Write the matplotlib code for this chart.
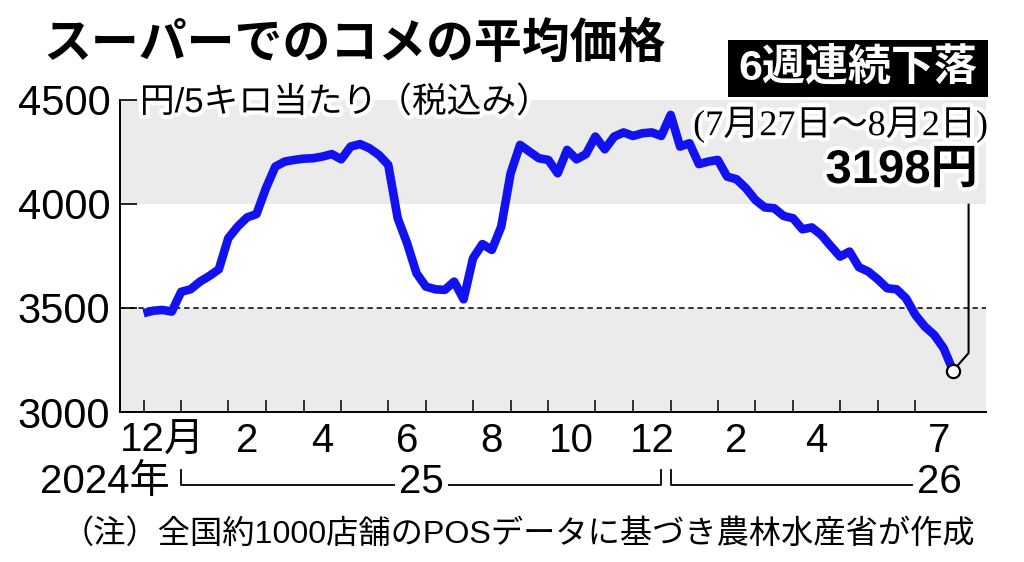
import matplotlib
matplotlib.use('Agg')
import matplotlib.pyplot as plt
import matplotlib.patheffects as pe
import matplotlib.transforms as mtransforms
from matplotlib import font_manager as fm
from matplotlib.patches import Rectangle
import numpy as np
import pandas as pd

# ---------------- data ----------------
title = 'スーパーでのコメの平均価格'
badge = '6週連続下落'
period_label = '(7月27日～8月2日)'
last_label = '3198円'
unit_label = '円/5キロ当たり（税込み）'
note = '（注）全国約1000店舗のPOSデータに基づき農林水産省が作成'

first_week = '2024-12-02'   # weekly data, Monday start
prices = [3474, 3486, 3490, 3482, 3577, 3589, 3626, 3653, 3685, 3834,
          3890, 3934, 3950, 4074, 4178, 4202, 4210, 4216, 4218, 4226,
          4238, 4213, 4274, 4286, 4266, 4234, 4186, 3930, 3810, 3666,
          3602, 3589, 3586, 3626, 3541, 3738, 3806, 3778, 3890, 4146,
          4282, 4250, 4218, 4210, 4146, 4258, 4213, 4238, 4322, 4261,
          4322, 4342, 4325, 4338, 4342, 4325, 4426, 4274, 4290, 4190,
          4202, 4210, 4130, 4117, 4074, 4018, 3982, 3978, 3941, 3930,
          3877, 3886, 3850, 3797, 3746, 3770, 3695, 3674, 3637, 3594,
          3589, 3546, 3466, 3410, 3370, 3306, 3198]

yticks = [3000, 3500, 4000, 4500]
ytick_labels = ['3000', '3500', '4000', '4500']
bands = [(3000, 3500), (4000, 4500)]
ref_level = 3500

label_months = ['2024-12', '2025-02', '2025-04', '2025-06', '2025-08',
                '2025-10', '2025-12', '2026-02', '2026-04', '2026-07']
label_texts = ['12月', '2', '4', '6', '8', '10', '12', '2', '4', '7']
year_texts = ['2024年', '25', '26']

# ---------------- fonts ----------------
names = {f.name for f in fm.fontManager.ttflist}
CJK = 'Noto Sans CJK JP'
SANS = ['Liberation Sans', CJK]
NARROW = ['Liberation Sans Narrow' if 'Liberation Sans Narrow' in names else 'Liberation Sans', CJK]
SERIF = ['Liberation Serif', CJK]
plt.rcParams['font.family'] = SANS

# ---------------- derived positions ----------------
weeks = pd.date_range(first_week, periods=len(prices), freq='7D')
months = (weeks + pd.Timedelta(days=3)).to_period('M')   # week belongs to month of its Thursday
x = np.arange(len(prices))
starts = [i for i in range(len(prices)) if i == 0 or months[i] != months[i - 1]]
month_start = {str(months[i]): i for i in starts}
month_mid = {}
for k, i in enumerate(starts):
    j = starts[k + 1] if k + 1 < len(starts) else len(prices)
    month_mid[str(months[i])] = (i + j) / 2

# ---------------- figure ----------------
W, H = 1024, 562
fig = plt.figure(figsize=(W / 100, H / 100), dpi=100)
ax = fig.add_axes([120 / W, (H - 412) / H, 866 / W, 312.5 / H])

BLUE = '#1212f0'
GRAY = '#ebebeb'

for lo, hi in bands:
    ax.axhspan(lo, hi, color=GRAY, lw=0, zorder=0)
ax.axhline(ref_level, color='black', lw=1.1, ls=(0, (3.5, 2.5)), zorder=1)

ax.plot(x, prices, color=BLUE, lw=6.2, solid_joinstyle='round',
        solid_capstyle='butt', zorder=3)

# leader line + end marker
xl, yl = x[-1], prices[-1]
ax.plot([xl, xl + 1.65, xl + 1.65], [yl, yl + 85, 3995], color='black',
        lw=1.5, zorder=4, clip_on=False)
ax.plot([xl], [yl], 'o', ms=9.5, mfc='white', mec='black', mew=1.6, zorder=5)

ax.set_xlim(-2.5, 89.5)
ax.set_ylim(3000, 4500)

for s in ['top', 'right']:
    ax.spines[s].set_visible(False)
for s in ['left', 'bottom']:
    ax.spines[s].set_linewidth(1.4)
    ax.spines[s].set_zorder(6)

ax.set_yticks(yticks)
ax.set_yticklabels(ytick_labels)
ax.tick_params(axis='y', direction='in', length=12, width=1.2, pad=7,
               labelsize=30)
ax.set_xticks(starts)
ax.set_xticklabels([])
ax.tick_params(axis='x', direction='in', length=9, width=1.1)

halo = [pe.withStroke(linewidth=6, foreground='white')]
tr = mtransforms.blended_transform_factory(ax.transData, ax.transAxes)

# month labels
for m, t in zip(label_months, label_texts):
    ax.text(month_mid[m], -0.093, t, transform=tr, ha='center', va='center',
            fontsize=29, family=NARROW, clip_on=False)

# year row
y_line = -0.234
y_top = -0.186
j25 = month_start['2025-01']
j26 = month_start['2026-01']
end25 = j26 - 1
kw = dict(color='black', lw=1.3, clip_on=False, transform=tr)
ax.plot([j25, j25, end25, end25], [y_top, y_line, y_line, y_top], **kw)
ax.plot([j26, j26, month_mid['2026-07']], [y_top, y_line, y_line], **kw)
bb = dict(facecolor='white', edgecolor='none', pad=3)
ax.text(j25 - 1.2, y_line + 0.01, year_texts[0], transform=tr, ha='right',
        va='center', fontsize=29, family=NARROW, clip_on=False)
ax.text((j25 + end25) / 2, y_line + 0.01, year_texts[1], transform=tr,
        ha='center', va='center', fontsize=29, family=NARROW, bbox=bb,
        clip_on=False)
ax.text(month_mid['2026-07'], y_line + 0.01, year_texts[2], transform=tr,
        ha='center', va='center', fontsize=29, family=NARROW, bbox=bb,
        clip_on=False)

# unit label
tr2 = mtransforms.blended_transform_factory(ax.transAxes, ax.transData)
ax.text(0.023, 4485, unit_label, transform=tr2, ha='left', va='center',
        fontsize=25, path_effects=halo, zorder=7)

# title
fig.text(43 / W, 1 - 45 / H, title, ha='left', va='center', fontsize=34.5,
         fontweight='bold')

# badge
fig.patches.append(Rectangle((728 / W, 1 - 97 / H), 260 / W, 57 / H,
                             transform=fig.transFigure, facecolor='black',
                             edgecolor='none'))
fig.text(858 / W, 1 - 69 / H, badge, ha='center', va='center', fontsize=31,
         fontweight='bold', color='white')

# period + value annotation
fig.text(988 / W, 1 - 125 / H, period_label, ha='right', va='center',
         fontsize=26, family=SERIF, path_effects=halo)
fig.text(978 / W, 1 - 171 / H, last_label, ha='right', va='center',
         fontsize=34, fontweight='bold', path_effects=halo)

# note
fig.text(62 / W, 1 - 535 / H, note, ha='left', va='center', fontsize=23.2)

fig.savefig('out.png', dpi=100)
